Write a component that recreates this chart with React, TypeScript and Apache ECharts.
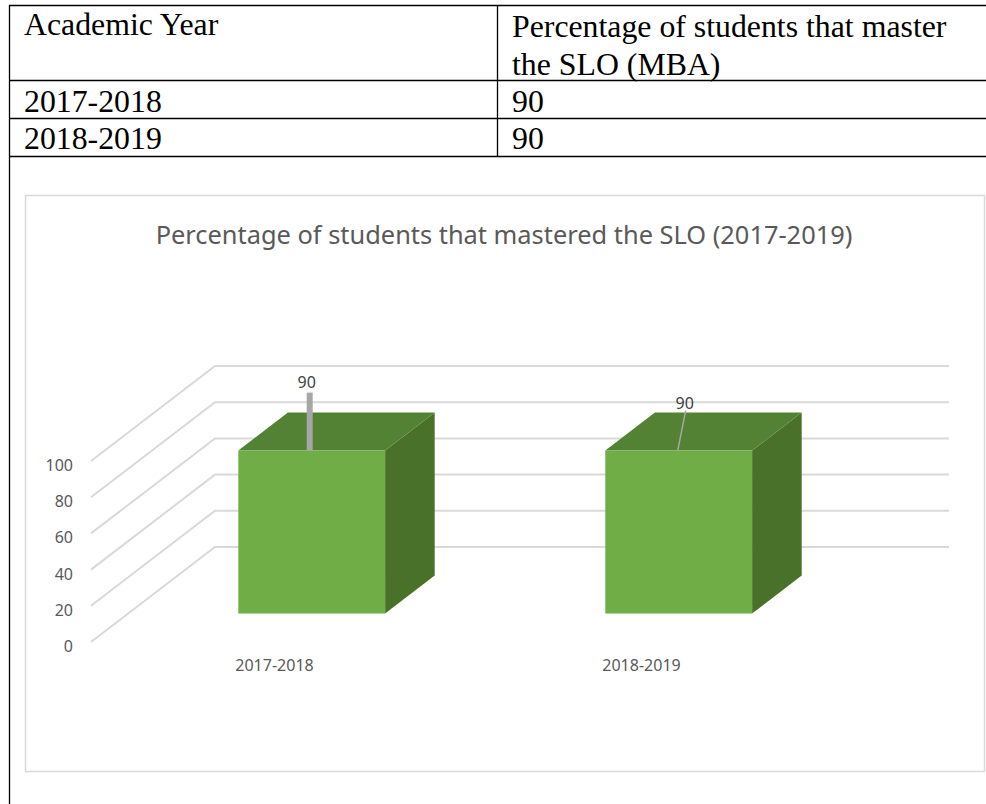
import React, { useEffect, useRef } from 'react';
import * as echarts from 'echarts';

// ---- data ----
const categories = ['2017-2018', '2018-2019'];
const values = [90, 90];
const yTicks = [0, 20, 40, 60, 80, 100];
const tableHeaderLeft = 'Academic Year';
const tableHeaderRight = ['Percentage of students that master', 'the SLO (MBA)'];
const chartTitle = 'Percentage of students that mastered the SLO (2017-2019)';

// ---- layout / style ----
const DEPTH = { dx: 124, dy: -95 };
const BAR_DEPTH = [0.3, 0.7];
const BAR_WIDTH_RATIO = 0.4;
const LABEL_LAYOUT = [
  { tx: -5, ty: -69, line: [[-2, -58], [-2, 0]], lw: 6 },
  { tx: 6, ty: -48, line: [[7, -40], [-1, 0]], lw: 1.5 },
];
const SANS = 'Noto Sans';
const SERIF = 'Liberation Serif';

function buildTable(): any[] {
  const els: any[] = [];
  const line = (x1: number, y1: number, x2: number, y2: number) =>
    els.push({ type: 'line', shape: { x1, y1, x2, y2 }, style: { stroke: '#000', lineWidth: 1.3 }, silent: true });
  const rowY = [5.5, 80.5, 118.5, 156.5];
  rowY.forEach((y) => line(9, y, 986, y));
  line(9.5, 5, 9.5, 804);
  line(497.5, 5, 497.5, 157);
  const txt = (t: string, x: number, baseline: number) =>
    els.push({
      type: 'text',
      x,
      y: baseline,
      style: { text: t, fill: '#000', fontSize: 31.8, fontFamily: SERIF, align: 'left', verticalAlign: 'bottom' },
      silent: true,
    });
  txt(tableHeaderLeft, 24, 40);
  txt(tableHeaderRight[0], 512, 42);
  txt(tableHeaderRight[1], 512, 80);
  categories.forEach((c, i) => {
    const b = 117 + i * 37.5;
    txt(c, 24, b);
    txt(String(values[i]), 512, b);
  });
  // chart area frame
  els.push({
    type: 'rect',
    shape: { x: 25.5, y: 195.5, width: 959, height: 576 },
    style: { fill: 'transparent', stroke: '#d9d9d9', lineWidth: 1.5 },
    silent: true,
  });
  return els;
}

export default function App() {
  const ref = useRef<HTMLDivElement>(null);
  useEffect(() => {
    if (!ref.current) return;
    const chart = echarts.init(ref.current, undefined, { renderer: 'svg' });
    const option: any = {
      animation: false,
      backgroundColor: '#fff',
      title: {
        text: chartTitle,
        left: 499,
        top: 216,
        textAlign: 'center',
        textStyle: { color: '#595959', fontSize: 25.4, fontWeight: 'normal', fontFamily: SANS },
      },
      graphic: { elements: buildTable() },
      grid: { left: 91, width: 734, top: 461, height: 181 },
      xAxis: {
        type: 'category',
        data: categories,
        axisLine: { show: false },
        axisTick: { show: false },
        axisLabel: { color: '#595959', fontSize: 16, fontFamily: SANS, margin: 15 },
      },
      yAxis: {
        type: 'value',
        min: 0,
        max: 100,
        interval: 20,
        axisLine: { show: false },
        axisTick: { show: false },
        splitLine: { show: false },
        axisLabel: {
          color: '#595959',
          fontSize: 16,
          fontFamily: SANS,
          margin: 18,
          verticalAlign: 'top',
          lineHeight: 8,
        },
      },
      series: [
        {
          type: 'custom',
          z: 1,
          silent: true,
          data: yTicks.map((v) => [0, v]),
          encode: { x: 0, y: 1 },
          renderItem: (params: any, api: any) => {
            const cs = params.coordSys;
            const y = api.coord([0, api.value(1)])[1];
            const x0 = cs.x;
            return {
              type: 'polyline',
              shape: {
                points: [
                  [x0, y],
                  [x0 + DEPTH.dx, y + DEPTH.dy],
                  [x0 + cs.width + DEPTH.dx, y + DEPTH.dy],
                ],
              },
              style: { stroke: '#d9d9d9', lineWidth: 2, fill: 'none' },
            };
          },
        },
        {
          type: 'custom',
          z: 2,
          data: values.map((v, i) => [i, v]),
          encode: { x: 0, y: 1 },
          renderItem: (params: any, api: any) => {
            const i = params.dataIndex;
            const xi = api.value(0);
            const v = api.value(1);
            const top = api.coord([xi, v]);
            const base = api.coord([xi, 0]);
            const band = api.size([1, 0])[0];
            const w = band * BAR_WIDTH_RATIO;
            const o0x = DEPTH.dx * BAR_DEPTH[0];
            const o0y = DEPTH.dy * BAR_DEPTH[0];
            const ddx = DEPTH.dx * (BAR_DEPTH[1] - BAR_DEPTH[0]);
            const ddy = DEPTH.dy * (BAR_DEPTH[1] - BAR_DEPTH[0]);
            const xl = top[0] + o0x - w / 2;
            const xr = xl + w;
            const yt = top[1] + o0y;
            const yb = base[1] + o0y;
            const cx = top[0] + o0x;
            const L = LABEL_LAYOUT[i];
            return {
              type: 'group',
              children: [
                {
                  type: 'polygon',
                  shape: { points: [[xr, yt], [xr, yb], [xr + ddx, yb + ddy], [xr + ddx, yt + ddy]] },
                  style: { fill: '#4A7129' },
                },
                {
                  type: 'polygon',
                  shape: { points: [[xl, yt], [xr, yt], [xr + ddx, yt + ddy], [xl + ddx, yt + ddy]] },
                  style: { fill: '#548235' },
                },
                {
                  type: 'rect',
                  shape: { x: xl, y: yt, width: w, height: yb - yt },
                  style: { fill: '#70AD47' },
                },
                {
                  type: 'line',
                  shape: {
                    x1: cx + L.line[0][0],
                    y1: yt + L.line[0][1],
                    x2: cx + L.line[1][0],
                    y2: yt + L.line[1][1],
                  },
                  style: { stroke: '#A6A6A6', lineWidth: L.lw },
                },
                {
                  type: 'text',
                  x: cx + L.tx,
                  y: yt + L.ty,
                  style: {
                    text: String(v),
                    fill: '#404040',
                    fontSize: 16,
                    fontFamily: SANS,
                    align: 'center',
                    verticalAlign: 'middle',
                  },
                },
              ],
            };
          },
        },
      ],
    };
    chart.setOption(option);
    return () => chart.dispose();
  }, []);
  return <div ref={ref} style={{ position: 'absolute', left: 0, top: 0, width: 986, height: 804 }} />;
}
